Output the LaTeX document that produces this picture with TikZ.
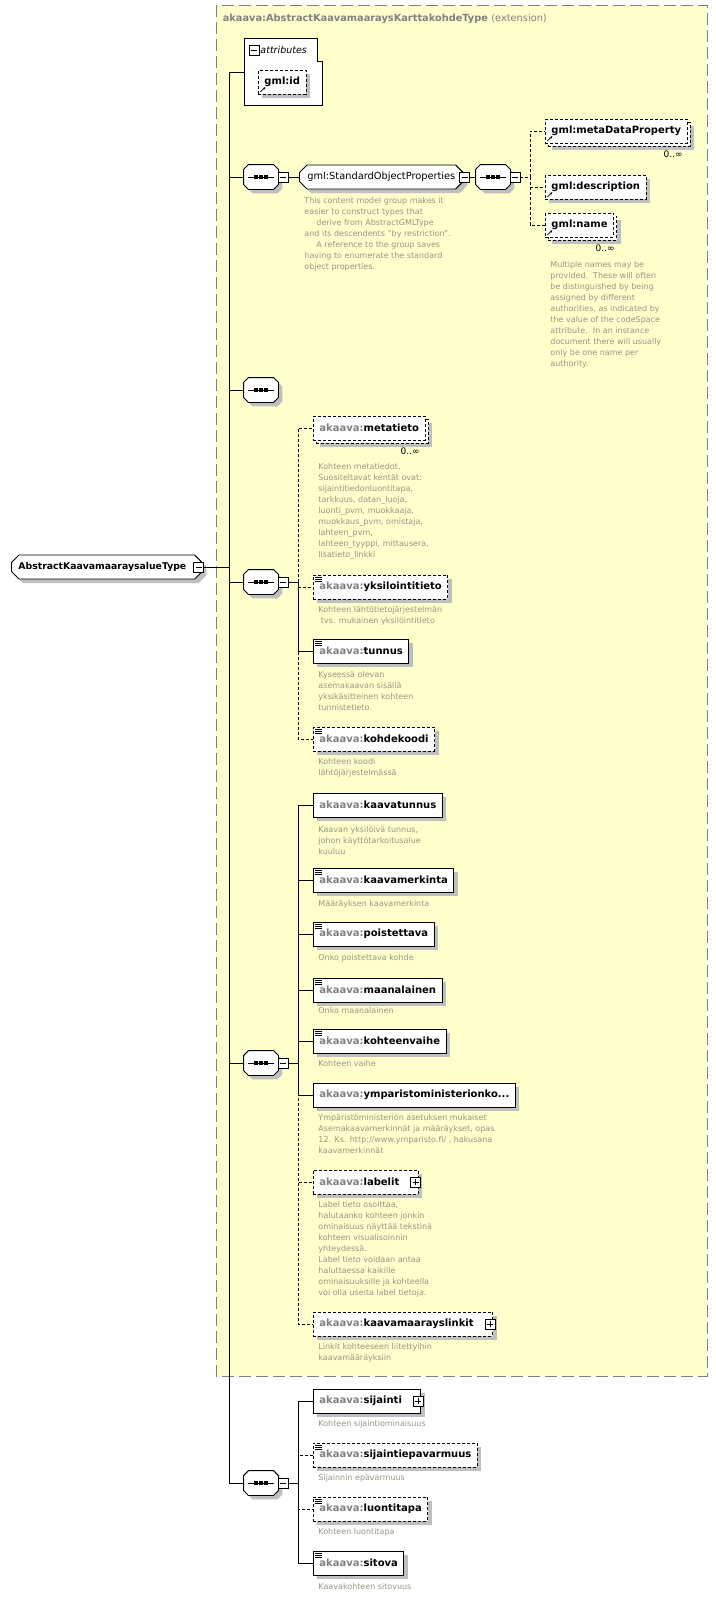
\documentclass[tikz,border=0pt]{standalone}
\usepackage{fontspec}
\setmainfont{DejaVu Sans}
\usetikzlibrary{shapes.misc,shadows,positioning,arrows.meta}
\definecolor{yellowbg}{RGB}{255,255,204}
\definecolor{pregray}{RGB}{128,128,128}
\definecolor{descgray}{RGB}{150,150,135}
\newcommand{\pre}[1]{\textcolor{pregray}{#1}}
\newcommand{\gap}{\rule{13pt}{0pt}}
\tikzset{
  shadowed/.style={drop shadow={shadow xshift=4pt,shadow yshift=-4pt,fill=black!25,opacity=1}},
  elem/.style={draw,fill=white,anchor=west,minimum height=24pt,inner xsep=6pt,inner ysep=0pt,
    font=\bfseries\fontsize{10}{11}\selectfont},
  dsh/.style={dash pattern=on 3pt off 2pt},
  req/.style={elem,shadowed},
  opt/.style={elem,shadowed,dsh},
  optflat/.style={elem,dsh},
  simp/.style={path picture={\foreach \d in {2,4,6}
    \draw[line width=0.6pt,solid] ([shift={(1.5pt,-\d pt)}]path picture bounding box.north west) -- ++(7pt,0);}},
  ref/.style={path picture={\draw[-{Stealth[length=3pt]},line width=0.7pt,solid]
    ([shift={(2pt,2pt)}]path picture bounding box.south west) -- ++(5pt,5pt);}},
  seqbox/.style={minimum width=34pt,minimum height=24pt,inner sep=0pt},
  grp/.style={draw,fill=white,chamfered rectangle,chamfered rectangle xsep=4pt,anchor=west,
    minimum height=24pt,inner xsep=4pt,inner ysep=0pt,font=\fontsize{9.8}{11}\selectfont,shadowed},
  minusbox/.style={draw,fill=white,minimum size=10pt,inner sep=0pt,line width=0.7pt,solid,
    path picture={\draw ([xshift=2pt]path picture bounding box.west) -- ([xshift=-2pt]path picture bounding box.east);}},
  plusbox/.style={minusbox,
    path picture={\draw ([xshift=2pt]path picture bounding box.west) -- ([xshift=-2pt]path picture bounding box.east);
      \draw ([yshift=2pt]path picture bounding box.south) -- ([yshift=-2pt]path picture bounding box.north);}},
  desc/.style={anchor=north west,align=left,text=descgray,font=\fontsize{8}{11}\selectfont,inner sep=0pt},
  occ/.style={font=\fontsize{9}{10}\selectfont,inner sep=0pt}
}
\newcommand{\seqnode}[3]{%
  \node[seqbox] (#1) at (#2,#3) {};
  \filldraw[fill=white,shadowed] ([xshift=5pt]#1.north west) -- ([xshift=-5pt]#1.north east)
    -- ([yshift=-5pt]#1.north east) -- ([yshift=5pt]#1.south east) -- ([xshift=-5pt]#1.south east)
    -- ([xshift=5pt]#1.south west) -- ([yshift=5pt]#1.south west) -- ([yshift=-5pt]#1.north west) -- cycle;
  \draw ([xshift=4pt]#1.west) -- ([xshift=-4pt]#1.east);
  \foreach \dx in {-5,0,5} \fill ([xshift=\dx pt]#1.center) +(-1.8,-1.8) rectangle +(1.8,1.8);
}
\begin{document}
\begin{tikzpicture}[x=1pt,y=-1pt,line width=0.9pt]
\useasboundingbox (0,0) rectangle (715,1598);
% extension area
\draw[fill=yellowbg,draw=pregray,dash pattern=on 12pt off 5pt] (216,5) rectangle (707,1376);
\node[anchor=west,font=\bfseries\fontsize{9.8}{11}\selectfont,text=pregray] (title) at (219,19)
  {akaava:AbstractKaavamaaraysKarttakohdeType \mdseries(extension)};

% root
\node[req,chamfered rectangle,chamfered rectangle xsep=4pt,inner xsep=3pt,font=\bfseries\fontsize{9.3}{11}\selectfont] (root) at (11,567) {AbstractKaavamaaraysalueType\rule{9pt}{0pt}};
\node[minusbox] (rootm) at ([xshift=-4pt]root.east) {};
\coordinate (sp) at (229,72);
\draw (rootm.east) -- (rootm.east -| sp);
\draw (sp) -- (229,1483);

% attributes
\draw[fill=white] (244,38) -- (317,38) -- (317,61) -- (322,61) -- (322,105) -- (244,105) -- cycle;
\node[minusbox] (attrm) at (254,50) {};
\node[anchor=west,font=\itshape\fontsize{9.5}{10}\selectfont,inner sep=0pt] (attr) at (260,50) {attributes};
\node[opt,ref] (gmlid) at (258,82) {gml:id};
\draw (sp) -- (244,72);

% standard object properties
\seqnode{s1}{261}{177}
\node[minusbox] (s1m) at (283,177) {};
\node[grp] (sop) at (299,177) {gml:StandardObjectProperties};
\node[minusbox] (sopm) at ([xshift=1pt]sop.east) {};
\seqnode{s1b}{493}{177}
\node[minusbox] (s1bm) at (515,177) {};
\coordinate (b1) at (530,177);
\node[opt,text opacity=0] (mdpb) at (548,134) {gml:metaDataProperty};
\node[optflat,ref] (mdp) at (545,131) {gml:metaDataProperty};
\node[occ,anchor=north east] (mdpo) at (683,150) {0..∞};
\node[opt,ref] (gdesc) at (545,187) {gml:description};
\node[opt,text opacity=0] (gnameb) at (548,228) {gml:name};
\node[optflat,ref] (gname) at (545,225) {gml:name};
\node[occ,anchor=north east] (gnameo) at (615,244) {0..∞};
\draw (s1.west -| sp) -- (s1.west);
\draw (s1m.east) -- (sop.west);
\draw (sopm.east) -- (s1b.west);
\foreach \c in {mdp,gdesc,gname} \draw[dsh] (s1bm.east) -- (b1) |- (\c.west);
\node[desc] (sopd) at (304,197) {This content model group makes it\\easier to construct types that\\\hspace{1.5em}derive from AbstractGMLType\\and its descendents "by restriction".\\\hspace{1.5em}A reference to the group saves\\having to enumerate the standard\\object properties.};
\node[desc] (gnamed) at (550,261) {Multiple names may be\\provided.\ \ These will often\\be distinguished by being\\assigned by different\\authorities, as indicated by\\the value of the codeSpace\\attribute.\ \ In an instance\\document there will usually\\only be one name per\\authority.};

% empty sequence
\seqnode{s2}{261}{390}
\draw (s2.west -| sp) -- (s2.west);

% sequence of identification
\seqnode{s4}{261}{582}
\node[minusbox] (s4m) at (283,582) {};
\coordinate (b4) at (298,582);
\node[opt,text opacity=0] (metab) at (316,431) {\pre{akaava:}metatieto};
\node[optflat] (meta) at (313,428) {\pre{akaava:}metatieto};
\node[occ,anchor=north east] (metao) at (420,447) {0..∞};
\node[opt,simp] (yks) at (313,587) {\pre{akaava:}yksilointitieto};
\node[req,simp] (tunnus) at (313,651) {\pre{akaava:}tunnus};
\node[opt,simp] (kohde) at (313,739) {\pre{akaava:}kohdekoodi};
\draw (s4.west -| sp) -- (s4.west);
\foreach \c in {meta,yks,kohde} \draw[dsh] (b4) |- (\c.west);
\draw (s4m.east) -- (b4) |- (tunnus.west);
\node[desc] (metad) at (318,463) {Kohteen metatiedot.\\Suositeltavat kentät ovat:\\sijaintitiedonluontitapa,\\tarkkuus, datan\_luoja,\\luonti\_pvm, muokkaaja,\\muokkaus\_pvm, omistaja,\\lahteen\_pvm,\\lahteen\_tyyppi, mittausera,\\lisatieto\_linkki};
\node[desc] (yksd) at (318,606) {Kohteen lähtötietojärjestelmän\\\ tvs. mukainen yksilöintitieto};
\node[desc] (tunnusd) at (318,671) {Kyseessä olevan\\asemakaavan sisällä\\yksikäsitteinen kohteen\\tunnistetieto.};
\node[desc] (kohded) at (318,758) {Kohteen koodi\\lähtöjärjestelmässä};

% sequence of plan data
\seqnode{s5}{261}{1063}
\node[minusbox] (s5m) at (283,1063) {};
\coordinate (b5) at (298,1063);
\node[req] (ktunnus) at (313,805) {\pre{akaava:}kaavatunnus};
\node[req,simp] (kmerk) at (313,880) {\pre{akaava:}kaavamerkinta};
\node[req,simp] (poist) at (313,934) {\pre{akaava:}poistettava};
\node[req,simp] (maan) at (313,990) {\pre{akaava:}maanalainen};
\node[req,simp] (vaihe) at (313,1041) {\pre{akaava:}kohteenvaihe};
\node[req] (ymp) at (313,1095) {\pre{akaava:}ymparistoministerionko...};
\node[opt] (label) at (313,1182) {\pre{akaava:}labelit\gap};
\node[plusbox] (labelp) at ([xshift=-3pt]label.east) {};
\node[opt] (linkit) at (313,1324) {\pre{akaava:}kaavamaarayslinkit\gap};
\node[plusbox] (linkitp) at ([xshift=-3pt]linkit.east) {};
\draw (s5.west -| sp) -- (s5.west);
\foreach \c in {label,linkit} \draw[dsh] (b5) |- (\c.west);
\foreach \c in {ktunnus,kmerk,poist,maan,vaihe,ymp} \draw (s5m.east) -- (b5) |- (\c.west);
\node[desc] (ktunnusd) at (318,826) {Kaavan yksilöivä tunnus,\\johon käyttötarkoitusalue\\kuuluu};
\node[desc] (kmerkd) at (318,900) {Määräyksen kaavamerkinta};
\node[desc] (poistd) at (318,954) {Onko poistettava kohde};
\node[desc] (maand) at (318,1007) {Onko maanalainen};
\node[desc] (vaihed) at (318,1060) {Kohteen vaihe};
\node[desc] (ympd) at (318,1114) {Ympäristöministeriön asetuksen mukaiset\\Asemakaavamerkinnät ja määräykset, opas\\12. Ks. http://www.ymparisto.fi/ , hakusana\\kaavamerkinnät};
\node[desc] (labeld) at (318,1201) {Label tieto osoittaa,\\halutaanko kohteen jonkin\\ominaisuus näyttää tekstinä\\kohteen visualisoinnin\\yhteydessä.\\Label tieto voidaan antaa\\haluttaessa kaikille\\ominaisuuksille ja kohteella\\voi olla useita label tietoja.};
\node[desc] (linkitd) at (318,1343) {Linkit kohteeseen liitettyihin\\kaavamääräyksiin};

% sequence of location
\seqnode{s6}{261}{1483}
\node[minusbox] (s6m) at (283,1483) {};
\coordinate (b6) at (298,1483);
\node[req] (sij) at (313,1401) {\pre{akaava:}sijainti\gap};
\node[plusbox] (sijp) at ([xshift=-3pt]sij.east) {};
\node[opt,simp] (epav) at (313,1455) {\pre{akaava:}sijaintiepavarmuus};
\node[opt,simp] (luonti) at (313,1509) {\pre{akaava:}luontitapa};
\node[req,simp] (sitova) at (313,1563) {\pre{akaava:}sitova};
\draw (s6.west -| sp) -- (s6.west);
\foreach \c in {epav,luonti} \draw[dsh] (b6) |- (\c.west);
\foreach \c in {sij,sitova} \draw (s6m.east) -- (b6) |- (\c.west);
\node[desc] (sijd) at (318,1420) {Kohteen sijaintiominaisuus};
\node[desc] (epavd) at (318,1474) {Sijainnin epävarmuus};
\node[desc] (luontid) at (318,1528) {Kohteen luontitapa};
\node[desc] (sitovad) at (318,1583) {Kaavakohteen sitovuus};
\end{tikzpicture}
\end{document}
